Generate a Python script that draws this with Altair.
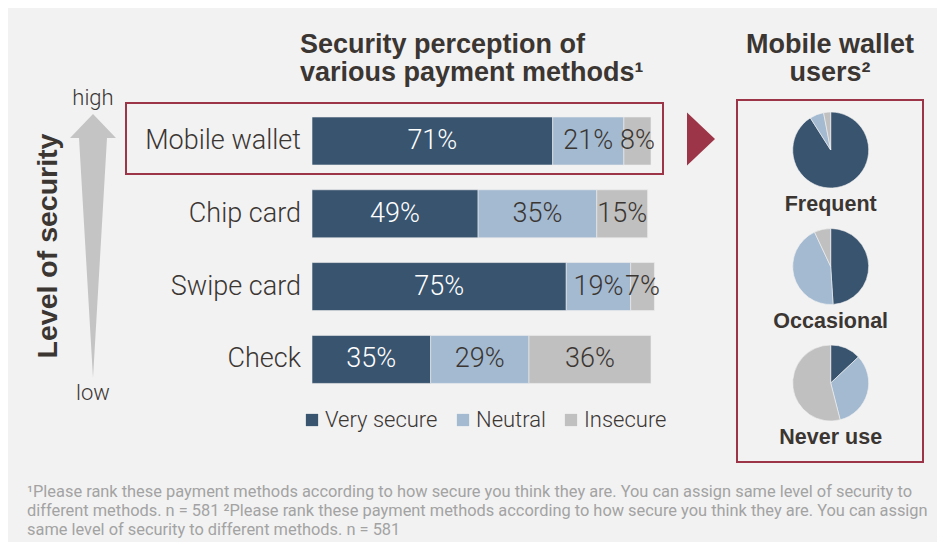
import altair as alt
import pandas as pd
import math

# ---- data ----
methods = ["Mobile wallet", "Chip card", "Swipe card", "Check"]
levels = ["Very secure", "Neutral", "Insecure"]
very_secure = [71, 49, 75, 35]
neutral = [21, 35, 19, 29]
insecure = [8, 15, 7, 36]

user_groups = ["Frequent", "Occasional", "Never use"]
pie_very_secure = [91, 49, 13]
pie_neutral = [6, 44, 33]
pie_insecure = [3, 7, 54]

title_left = ["Security perception of", "various payment methods¹"]
title_right = ["Mobile wallet", "users²"]
footnote = [
    "¹Please rank these payment methods according to how secure you think they are. You can assign same level of security to",
    "different methods. n = 581 ²Please rank these payment methods according to how secure you think they are. You can assign",
    "same level of security to different methods. n = 581",
]

colors = ["#39546f", "#a4bad1", "#c0c0c0"]
RED = "#9c3548"
DARK = "#3b3632"
LIGHT_FONT = "Roboto"
BOLD_FONT = "Liberation Sans"

# ---- tables ----
rows = []
for i, m in enumerate(methods):
    start = 0
    for lvl, vals in zip(levels, [very_secure, neutral, insecure]):
        v = vals[i]
        rows.append({"method": m, "level": lvl, "value": v, "x0": start,
                     "x1": start + v, "mid": start + v / 2, "label": f"{v}%"})
        start += v
bars_df = pd.DataFrame(rows)

prow = []
for i, g in enumerate(user_groups):
    start = 0
    for lvl, vals in zip(levels, [pie_very_secure, pie_neutral, pie_insecure]):
        v = vals[i]
        prow.append({"group": g, "level": lvl, "t0": start, "t1": start + v})
        start += v
pie_df = pd.DataFrame(prow)
group_df = pd.DataFrame({"group": user_groups})
method_df = pd.DataFrame({"method": methods})
one = pd.DataFrame({"a": [0]})

xs = alt.Scale(domain=[0, 100], range=[304, 643])
ys = alt.Scale(domain=methods, range=[96.6, 387.8], paddingInner=0.34, paddingOuter=0.17)
pys = alt.Scale(type="point", domain=user_groups, range=[142, 375], padding=0)
cs = alt.Scale(domain=levels, range=colors)

bars = alt.Chart(bars_df).mark_bar(stroke="#eeeeee", strokeWidth=0.6).encode(
    x=alt.X("x0:Q", scale=xs, axis=None),
    x2="x1:Q",
    y=alt.Y("method:N", scale=ys, axis=None),
    color=alt.Color("level:N", scale=cs, title=None, legend=alt.Legend(
        orient="none", legendX=293, legendY=401, direction="horizontal",
        symbolType="square", symbolSize=150, symbolStrokeWidth=0,
        labelFontSize=22, labelFont=LIGHT_FONT, labelFontWeight=300, labelColor=DARK,
        labelOffset=2, columnPadding=14, padding=0, labelLimit=300)),
)

bar_labels = alt.Chart(bars_df).mark_text(
    fontSize=27, font=LIGHT_FONT, fontWeight=300, baseline="middle", align="center"
).encode(
    x=alt.X("mid:Q", scale=xs, axis=None),
    y=alt.Y("method:N", scale=ys, axis=None),
    text="label:N",
    color=alt.condition(alt.datum.level == "Very secure", alt.value("white"), alt.value(DARK)),
)

cat_labels = alt.Chart(method_df).mark_text(
    fontSize=27, font=LIGHT_FONT, fontWeight=300, baseline="middle", align="right", color=DARK
).encode(
    x=alt.value(293),
    y=alt.Y("method:N", scale=ys, axis=None),
    text="method:N",
)

pies = alt.Chart(pie_df).mark_arc(radius=38, stroke="#f2f2f2", strokeWidth=0.6).encode(
    theta=alt.Theta("t0:Q", scale=alt.Scale(domain=[0, 100], range=[0, 2 * math.pi])),
    theta2="t1:Q",
    x=alt.value(822.7),
    y=alt.Y("group:N", scale=pys, axis=None),
    color=alt.Color("level:N", scale=cs, legend=None),
)

pie_labels = alt.Chart(group_df).mark_text(
    fontSize=21.5, font=BOLD_FONT, fontWeight="bold", baseline="middle", align="center", color=DARK, dy=55
).encode(
    x=alt.value(822.7),
    y=alt.Y("group:N", scale=pys, axis=None),
    text="group:N",
)

def txt(text, x, y, **kw):
    return alt.Chart(one).mark_text(**kw).encode(x=alt.value(x), y=alt.value(y), text=alt.value(text))

t_left = txt(title_left, 292, 37, fontSize=27, font=BOLD_FONT, fontWeight="bold",
             align="left", baseline="middle", lineHeight=28, color=DARK)
t_right = txt(title_right, 822, 37, fontSize=27, font=BOLD_FONT, fontWeight="bold",
              align="center", baseline="middle", lineHeight=28, color=DARK)
t_level = txt("Level of security", 40, 238, fontSize=28.5, font=BOLD_FONT, fontWeight="bold",
              align="center", baseline="middle", angle=270, color=DARK)
t_high = txt("high", 85, 90, fontSize=22, font=LIGHT_FONT, fontWeight=300,
             align="center", baseline="middle", color=DARK)
t_low = txt("low", 85, 385, fontSize=22, font=LIGHT_FONT, fontWeight=300,
            align="center", baseline="middle", color=DARK)
t_foot = txt(footnote, 19, 484, fontSize=16.4, font=LIGHT_FONT,
             align="left", baseline="middle", lineHeight=19, color="#a3a3a3")

box_left = alt.Chart(one).mark_rect(fillOpacity=0, stroke=RED, strokeWidth=2).encode(
    x=alt.value(118), x2=alt.value(655), y=alt.value(95), y2=alt.value(166))
box_right = alt.Chart(one).mark_rect(fillOpacity=0, stroke=RED, strokeWidth=2).encode(
    x=alt.value(729), x2=alt.value(915), y=alt.value(92), y2=alt.value(454))

arrow_path = "M0,-1 L0.174,-0.818 L0.106,-0.818 L0,1 L-0.106,-0.818 L-0.174,-0.818 Z"
arrow = alt.Chart(one).mark_point(shape=arrow_path, size=69696, filled=True,
                                  fill="#c4c4c4", opacity=1, strokeWidth=0).encode(
    x=alt.value(85), y=alt.value(238))

tri_path = "M-0.528,-1 L0.528,0 L-0.528,1 Z"
tri = alt.Chart(one).mark_point(shape=tri_path, size=2809, filled=True,
                                fill=RED, opacity=1, strokeWidth=0).encode(
    x=alt.value(693), y=alt.value(131))

chart = alt.layer(
    box_left, box_right, arrow, tri, bars, bar_labels, cat_labels, pies, pie_labels,
    t_left, t_right, t_level, t_high, t_low, t_foot,
).resolve_scale(x="independent", y="independent").properties(
    width=929, height=534, padding=0, autosize=alt.AutoSizeParams(type="none")
).configure(background="#f2f2f2").configure_view(strokeWidth=0)

chart.save("out.html", embed_options={"renderer": "svg", "actions": False})
